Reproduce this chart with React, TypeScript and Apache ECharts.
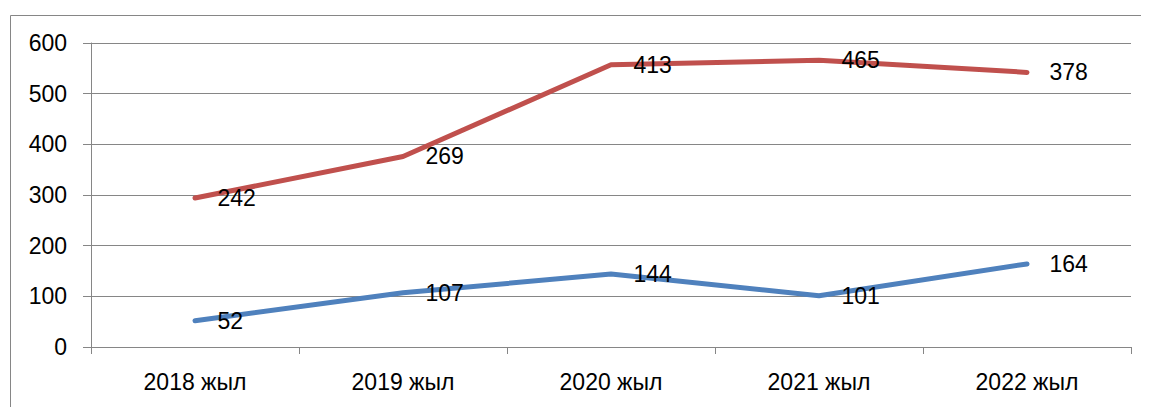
import React, { useEffect, useRef } from "react";
import * as echarts from "echarts";

const categories = ["2018 жыл", "2019 жыл", "2020 жыл", "2021 жыл", "2022 жыл"];
const blueValues = [52, 107, 144, 101, 164];
const redValues = [242, 269, 413, 465, 378];
const yTicks = { min: 0, max: 600, interval: 100 };

const FONT = "'Liberation Sans', Arial, sans-serif";
const GRAY = "#868686";

export default function App() {
  const ref = useRef<HTMLDivElement>(null);
  useEffect(() => {
    if (!ref.current) return;
    const chart = echarts.init(ref.current, undefined, { renderer: "svg" });
    const label = {
      show: true,
      position: "right",
      distance: 22,
      color: "#000",
      fontSize: 23,
      fontFamily: FONT,
    };
    chart.setOption({
      animation: false,
      backgroundColor: "#fff",
      grid: { left: 83, top: 35, right: 18, bottom: 60 },
      graphic: [
        {
          type: "rect",
          left: 0,
          top: 5,
          shape: { x: 0.5, y: 0.5, width: 1200, height: 500 },
          style: { fill: "none", stroke: GRAY, lineWidth: 1 },
          silent: true,
          z: -1,
        },
      ],
      xAxis: {
        type: "category",
        data: categories,
        boundaryGap: true,
        axisLine: { show: true, lineStyle: { color: GRAY, width: 1 } },
        axisTick: { show: true, length: 7, lineStyle: { color: GRAY } },
        axisLabel: { color: "#000", fontSize: 23, fontFamily: FONT, margin: 23 },
        splitLine: { show: false },
      },
      yAxis: {
        type: "value",
        min: yTicks.min,
        max: yTicks.max,
        interval: yTicks.interval,
        axisLine: { show: true, lineStyle: { color: GRAY, width: 1 } },
        axisTick: { show: true, length: 8, lineStyle: { color: GRAY } },
        axisLabel: { color: "#000", fontSize: 23, fontFamily: FONT, margin: 24 },
        splitLine: { show: true, lineStyle: { color: GRAY, width: 1 } },
      },
      series: [
        {
          type: "line",
          name: "blue",
          stack: "total",
          data: blueValues,
          symbol: "circle",
          symbolSize: 1,
          showSymbol: true,
          lineStyle: { color: "#4F81BD", width: 5, cap: "round", join: "round" },
          itemStyle: { color: "#4F81BD" },
          label,
          z: 2,
        },
        {
          type: "line",
          name: "red",
          stack: "total",
          data: redValues,
          symbol: "circle",
          symbolSize: 1,
          showSymbol: true,
          lineStyle: { color: "#C0504D", width: 5, cap: "round", join: "round" },
          itemStyle: { color: "#C0504D" },
          label,
          z: 2,
        },
      ],
    });
    return () => chart.dispose();
  }, []);
  return <div ref={ref} style={{ width: 1141, height: 399 }} />;
}
